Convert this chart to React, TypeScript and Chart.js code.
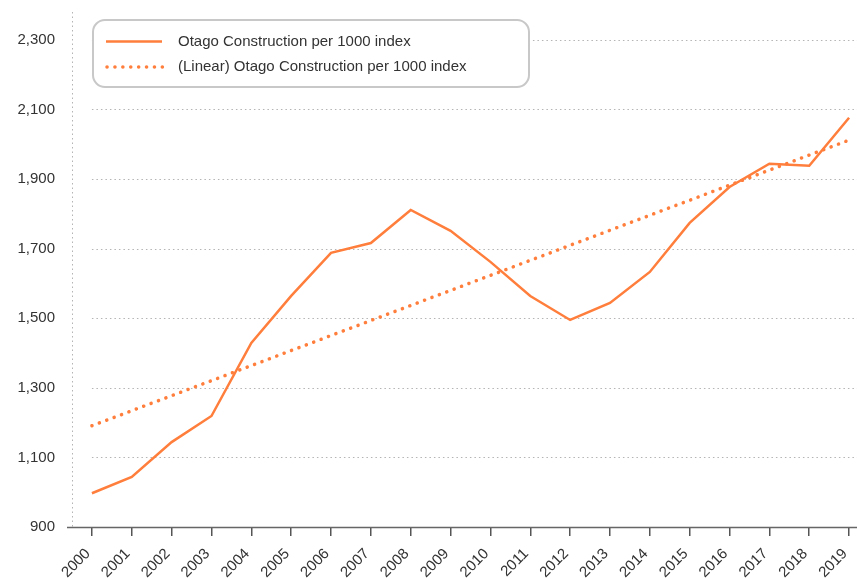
import React, { useEffect, useRef } from "react";
import { Chart, registerables } from "chart.js";

Chart.register(...registerables);

const categories = ["2000","2001","2002","2003","2004","2005","2006","2007","2008","2009","2010","2011","2012","2013","2014","2015","2016","2017","2018","2019"];
const constructionIndex = [997,1044,1144,1219,1429,1564,1688,1716,1811,1751,1662,1564,1495,1544,1633,1774,1877,1944,1938,2076];
// linear trendline end values (first and last category)
const trendStart = 1191;
const trendEnd = 2012;
const yTicks = [900,1100,1300,1500,1700,1900,2100,2300];
const seriesName = "Otago Construction per 1000 index";
const trendName = "(Linear) Otago Construction per 1000 index";

const ORANGE = "#FF7E3C";
const FONT = "'Liberation Sans', Arial, Helvetica, sans-serif";

const trendData: (number | null)[] = categories.map((_, i) =>
  i === 0 ? trendStart : i === categories.length - 1 ? trendEnd : null
);

const gridPlugin = {
  id: "customGrid",
  beforeDatasetsDraw(chart: any) {
    const { ctx, chartArea, scales } = chart;
    const x0 = scales.x.getPixelForValue(0);
    ctx.save();
    ctx.strokeStyle = "#b4b4b4";
    ctx.lineWidth = 1;
    ctx.setLineDash([1.5, 3]);
    yTicks.forEach((v) => {
      if (v === yTicks[0]) return;
      const y = Math.round(scales.y.getPixelForValue(v)) + 0.5;
      ctx.beginPath();
      ctx.moveTo(x0, y);
      ctx.lineTo(chartArea.right, y);
      ctx.stroke();
    });
    // dotted y axis line
    ctx.beginPath();
    const xl = Math.round(chartArea.left) + 0.5;
    ctx.moveTo(xl, chartArea.top);
    ctx.lineTo(xl, chartArea.bottom);
    ctx.stroke();
    ctx.setLineDash([]);
    // x axis solid line
    ctx.strokeStyle = "#666";
    ctx.lineWidth = 1.5;
    ctx.beginPath();
    ctx.moveTo(chartArea.left - 5, chartArea.bottom + 0.5);
    ctx.lineTo(chartArea.right, chartArea.bottom + 0.5);
    ctx.stroke();
    ctx.restore();
  },
};

const legendPlugin = {
  id: "customLegend",
  afterDraw(chart: any) {
    const { ctx } = chart;
    const x = 93, y = 20, w = 436, h = 67, r = 12;
    ctx.save();
    ctx.strokeStyle = "#c8c8c8";
    ctx.lineWidth = 2;
    ctx.fillStyle = "#fff";
    ctx.beginPath();
    ctx.roundRect(x, y, w, h, r);
    ctx.fill();
    ctx.stroke();
    // solid sample
    ctx.strokeStyle = ORANGE;
    ctx.lineWidth = 2.5;
    ctx.beginPath();
    ctx.moveTo(106, 41.5);
    ctx.lineTo(162, 41.5);
    ctx.stroke();
    // dotted sample
    ctx.lineWidth = 3.5;
    ctx.lineCap = "round";
    ctx.setLineDash([0.1, 7.8]);
    ctx.beginPath();
    ctx.moveTo(107, 67);
    ctx.lineTo(164, 67);
    ctx.stroke();
    ctx.setLineDash([]);
    ctx.fillStyle = "#333";
    ctx.font = `15px ${FONT}`;
    ctx.textBaseline = "middle";
    ctx.fillText(seriesName, 178, 42);
    ctx.fillText(trendName, 178, 67);
    ctx.restore();
  },
};

export default function App() {
  const ref = useRef<HTMLCanvasElement | null>(null);
  useEffect(() => {
    document.body.style.margin = "0";
    document.body.style.overflow = "hidden";
    if (!ref.current) return;
    const chart = new Chart(ref.current, {
      type: "line",
      data: {
        labels: categories,
        datasets: [
          {
            label: seriesName,
            data: constructionIndex,
            borderColor: ORANGE,
            backgroundColor: ORANGE,
            borderWidth: 2.5,
            pointRadius: 0,
            tension: 0,
          },
          {
            label: trendName,
            data: trendData,
            spanGaps: true,
            borderColor: ORANGE,
            backgroundColor: ORANGE,
            borderWidth: 3.5,
            borderDash: [0.1, 7.8],
            borderCapStyle: "round",
            pointRadius: 0,
            tension: 0,
          },
        ],
      },
      options: {
        animation: false,
        responsive: false,
        maintainAspectRatio: false,
        layout: { padding: { top: 12, right: 3, left: 0, bottom: 0 } },
        plugins: { legend: { display: false }, tooltip: { enabled: false } },
        scales: {
          x: {
            offset: true,
            grid: {
              offset: false,
              drawOnChartArea: false,
              drawTicks: true,
              tickLength: 9,
              color: "#555",
              lineWidth: 1.5,
            },
            border: { display: false },
            ticks: {
              color: "#333",
              font: { family: FONT, size: 15 },
              maxRotation: 45,
              minRotation: 45,
              padding: 9,
              labelOffset: -4,
              autoSkip: false,
            },
            afterFit(scale: any) {
              scale.height = 52;
              scale.paddingLeft = 0;
              scale.paddingRight = 0;
            },
          },
          y: {
            min: 900,
            max: 2380,
            afterBuildTicks(scale: any) {
              scale.ticks = yTicks.map((v) => ({ value: v }));
            },
            grid: { display: false, drawTicks: false },
            border: { display: false },
            ticks: {
              color: "#333",
              font: { family: FONT, size: 15 },
              padding: 17,
              callback: (v: any) => Number(v).toLocaleString("en-US"),
            },
            afterFit(scale: any) {
              scale.width = 72;
              scale.paddingTop = 0;
              scale.paddingBottom = 0;
            },
          },
        },
      },
      plugins: [gridPlugin, legendPlugin],
    });
    return () => chart.destroy();
  }, []);
  return (
    <div style={{ position: "absolute", left: 0, top: 0, width: 857, height: 579, overflow: "hidden", background: "#fff" }}>
      <canvas ref={ref} width={872} height={579} style={{ display: "block" }} />
    </div>
  );
}
